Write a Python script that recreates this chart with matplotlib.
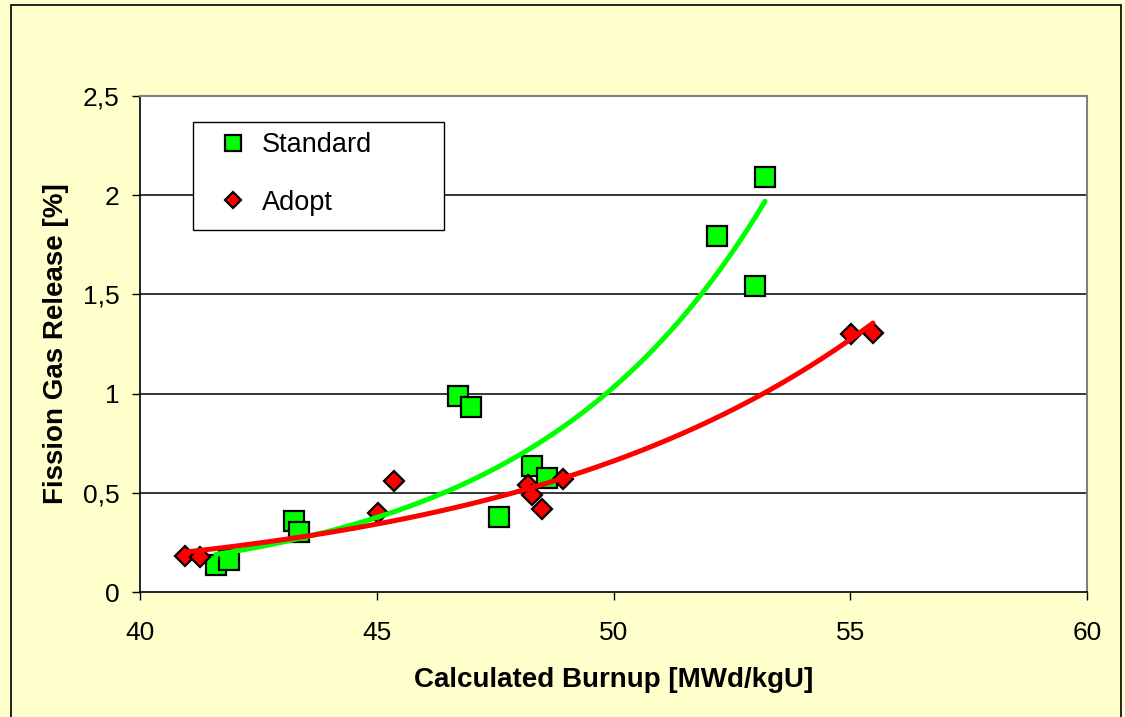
import numpy as np
import matplotlib
matplotlib.use("Agg")
import matplotlib.pyplot as plt
from matplotlib.patches import Rectangle
from matplotlib.ticker import FuncFormatter

plt.rcParams['font.family'] = ['Liberation Sans', 'DejaVu Sans']

# data
std_x = [41.6, 41.88, 43.25, 43.36, 46.72, 46.99, 47.58, 48.28, 48.6, 52.19, 52.99, 53.2]
std_y = [0.135, 0.16, 0.36, 0.30, 0.99, 0.93, 0.38, 0.635, 0.575, 1.795, 1.54, 2.09]
adopt_x = [40.95, 41.27, 45.03, 45.37, 48.19, 48.28, 48.49, 48.94, 55.02, 55.48]
adopt_y = [0.18, 0.177, 0.40, 0.56, 0.54, 0.49, 0.42, 0.57, 1.30, 1.305]

xticks = [40, 45, 50, 55, 60]
yticks = [0, 0.5, 1, 1.5, 2, 2.5]

bg = '#FFFFCC'
W, H = 1125, 717
L, R, T, B = 140, 1087, 96, 592   # plot area in pixels

fig = plt.figure(figsize=(W / 100, H / 100), dpi=100, facecolor=bg)
ax = fig.add_axes([L / W, (H - B) / H, (R - L) / W, (B - T) / H])
ax.set_facecolor('white')

def ax_xy(px, py):
    # pixel position -> axes fraction
    return (px - L) / (R - L), (B - py) / (B - T)

# outer border of the chart area
fig.patches.append(Rectangle((11 / W, -0.05), (1121 - 11) / W, 1.05 - 5 / H,
                             transform=fig.transFigure, fill=False,
                             edgecolor='black', lw=1.2, zorder=0))

# gridlines
for y in yticks[1:-1]:
    ax.axhline(y, color='black', lw=1.1, zorder=1)

# exponential trendlines (least squares on log y)
def exp_trend(x, y):
    b, a = np.polyfit(x, np.log(y), 1)
    xs = np.linspace(min(x), max(x), 200)
    return xs, np.exp(a + b * xs)

gx, gy = exp_trend(std_x, std_y)
rx, ry = exp_trend(adopt_x, adopt_y)
ax.plot(gx, gy, color='#00FF00', lw=3.6, zorder=3, solid_capstyle='round')
ax.plot(rx, ry, color='#FF0000', lw=3.6, zorder=3, solid_capstyle='round')

ax.plot(std_x, std_y, 's', ms=14.5, mfc='#00FF00', mec='black', mew=1.6,
        ls='none', zorder=2, label='Standard')
ax.plot(adopt_x, adopt_y, 'D', ms=10, mfc='#FF0000', mec='black', mew=1.6,
        ls='none', zorder=2, label='Adopt')

ax.set_xlim(40, 60)
ax.set_ylim(0, 2.5)
ax.set_xticks(xticks)
ax.set_yticks(yticks)
ax.yaxis.set_major_formatter(FuncFormatter(lambda v, p: ('%g' % v).replace('.', ',')))
ax.tick_params(axis='both', direction='out', length=6, width=1, labelsize=19,
               colors='black')
ax.tick_params(axis='x', pad=15)
ax.tick_params(axis='y', pad=9)

for s in ['top', 'right']:
    ax.spines[s].set_color('#808080')
    ax.spines[s].set_linewidth(1.5)
for s in ['left', 'bottom']:
    ax.spines[s].set_color('black')
    ax.spines[s].set_linewidth(1.2)

ax.set_xlabel('Calculated Burnup [MWd/kgU]', fontsize=20, fontweight='bold', labelpad=16)
ax.set_ylabel('Fission Gas Release [%]', fontsize=20, fontweight='bold', labelpad=10)

# legend: box drawn separately to get the wide Excel-style frame
x0, y0 = ax_xy(193, 230)
x1, y1 = ax_xy(444, 122)
ax.add_patch(Rectangle((x0, y0), x1 - x0, y1 - y0, transform=ax.transAxes,
                       facecolor='white', edgecolor='black', lw=1.0, zorder=4))
leg = ax.legend(loc='upper left', bbox_to_anchor=ax_xy(214, 132),
                frameon=False, fontsize=19.5, labelspacing=1.17,
                borderpad=0, handletextpad=0.38, borderaxespad=0, markerscale=0.8,
                handlelength=1.4)
leg.set_zorder(5)

fig.savefig('out.png', dpi=100, facecolor=bg)
